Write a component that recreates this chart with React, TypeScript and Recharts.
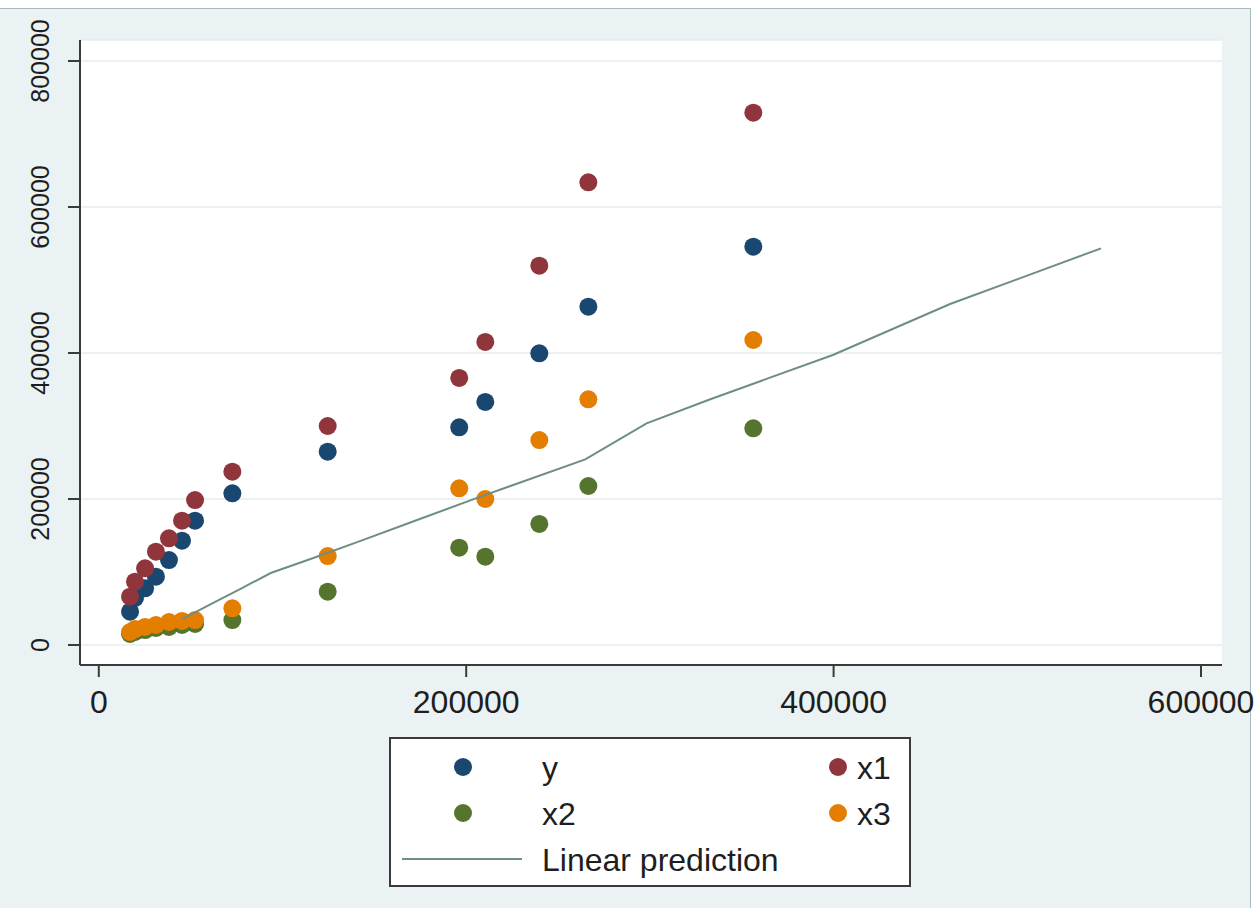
import { CartesianGrid, Scatter, ScatterChart, XAxis, YAxis } from "recharts";

// observation axis values, one per point column
const obsX = [17000, 19700, 25200, 31100, 38200, 45300, 52400, 72700, 124600, 196200, 210400, 239800, 266500, 356300];
const yVals = [45600, 64400, 77700, 93600, 116400, 142900, 170300, 207800, 264800, 298200, 332900, 399600, 463400, 545600];
const x1Vals = [66200, 86700, 105100, 127800, 146200, 170300, 198600, 237400, 300000, 365800, 415100, 519600, 633800, 729200];
const x2Vals = [15100, 17800, 20500, 23300, 24700, 27400, 28800, 34200, 73000, 133300, 121000, 165800, 217800, 296800];
const x3Vals = [17800, 21900, 24700, 27400, 31500, 32900, 34200, 50300, 121900, 214700, 200000, 280800, 336600, 417800];

// linear prediction, drawn against y
const predVals = [35800, 60300, 77700, 98600, 118800, 143000, 168500, 203200, 254200, 303700, 336700, 397300, 467100, 543400];

const xTicks = [0, 200000, 400000, 600000];
const yTicks = [0, 200000, 400000, 600000, 800000];

const series = [
  { name: "y", values: yVals, color: "#1a476f" },
  { name: "x1", values: x1Vals, color: "#90353b" },
  { name: "x2", values: x2Vals, color: "#55752f" },
  { name: "x3", values: x3Vals, color: "#e37e00" },
];
const lineColor = "#6e8e84";

const FONT = "'Liberation Sans', Arial, sans-serif";
const axisColor = "#3a3a3a";

const toPoints = (xs: number[], ys: number[]) => xs.map((x, i) => ({ x, y: ys[i] }));

const XTick = (props: any) => {
  const { x, y, payload } = props;
  return (
    <text x={x} y={y} dy={34} textAnchor="middle" fontSize={32} fontFamily={FONT} fill="#1e1e1e">
      {payload.value}
    </text>
  );
};

const YTick = (props: any) => {
  const { x, y, payload } = props;
  const bx = x - 17;
  return (
    <text
      x={bx}
      y={y}
      transform={`rotate(-90, ${bx}, ${y})`}
      textAnchor="middle"
      fontSize={25}
      fontFamily={FONT}
      fill="#1e1e1e"
    >
      {payload.value}
    </text>
  );
};

const dot = (color: string) => (p: any) => <circle cx={p.cx} cy={p.cy} r={9} fill={color} />;

function LegendBox() {
  const rows = [767, 813, 859];
  const txt = { fontSize: 32, fontFamily: FONT, fill: "#1e1e1e" };
  return (
    <svg width={522} height={150} style={{ position: "absolute", left: 389, top: 737 }}>
      <rect x={1} y={1} width={520} height={148} fill="#ffffff" stroke="#3a3a3a" strokeWidth={2} />
      {series.map((s, i) => {
        const col = i % 2;
        const row = Math.floor(i / 2);
        const cy = rows[row] - 737;
        const mx = col === 0 ? 74 : 449;
        const tx = col === 0 ? 153 : 468;
        return (
          <g key={s.name}>
            <circle cx={mx} cy={cy} r={9} fill={s.color} />
            <text x={tx} y={cy + 12} {...txt}>
              {s.name}
            </text>
          </g>
        );
      })}
      <line x1={13} x2={133} y1={rows[2] - 737} y2={rows[2] - 737} stroke={lineColor} strokeWidth={2} />
      <text x={153} y={rows[2] - 737 + 12} {...txt}>
        Linear prediction
      </text>
    </svg>
  );
}

export default function App() {
  return (
    <div style={{ position: "absolute", left: 0, top: 0, width: 1257, height: 908, background: "#ffffff", overflow: "hidden" }}>
      <div
        style={{
          position: "absolute",
          left: 0,
          top: 8,
          width: 1250,
          height: 900,
          background: "#eaf2f3",
          borderTop: "1px solid #a9b9c0",
          borderRight: "1px solid #a9b9c0",
        }}
      />
      <div style={{ position: "absolute", left: 0, top: 0 }}>
        <ScatterChart width={1257} height={908} margin={{ top: 40, right: 35, bottom: 183, left: 0 }}>
          <CartesianGrid vertical={false} fill="#ffffff" stroke="#e6edef" strokeWidth={1.5} />
          <XAxis
            type="number"
            dataKey="x"
            domain={[-10234, 611432]}
            allowDataOverflow
            ticks={xTicks}
            interval={0}
            height={60}
            tickSize={12}
            tick={XTick}
            axisLine={{ stroke: axisColor, strokeWidth: 2 }}
            tickLine={{ stroke: axisColor, strokeWidth: 2 }}
          />
          <YAxis
            type="number"
            dataKey="y"
            domain={[-27397, 828767]}
            allowDataOverflow
            ticks={yTicks}
            interval={0}
            width={80}
            tickSize={12}
            tick={YTick}
            axisLine={{ stroke: axisColor, strokeWidth: 2 }}
            tickLine={{ stroke: axisColor, strokeWidth: 2 }}
          />
          {series.map((s) => (
            <Scatter
              key={s.name}
              name={s.name}
              data={toPoints(obsX, s.values)}
              fill={s.color}
              shape={dot(s.color)}
              isAnimationActive={false}
            />
          ))}
          <Scatter
            name="Linear prediction"
            data={toPoints(yVals, predVals)}
            line={{ stroke: lineColor, strokeWidth: 2 }}
            lineType="joint"
            shape={() => <g />}
            isAnimationActive={false}
          />
        </ScatterChart>
      </div>
      <LegendBox />
    </div>
  );
}
